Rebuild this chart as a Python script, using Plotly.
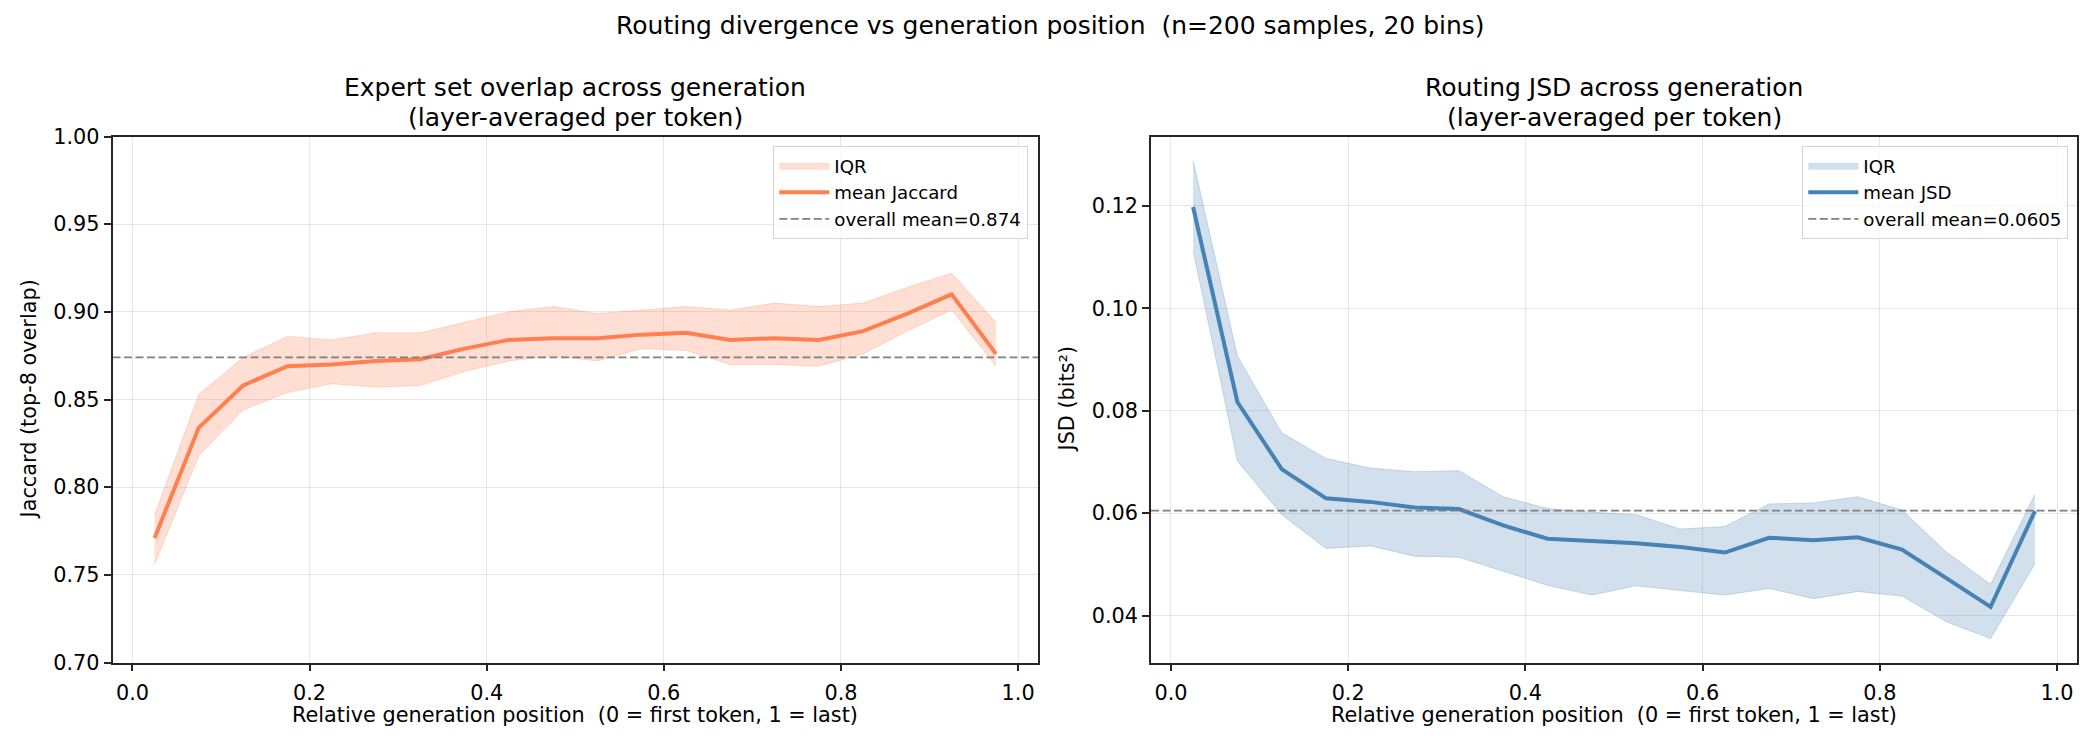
import plotly.graph_objects as go

# ---- data ----
positions = [0.025, 0.075, 0.125, 0.175, 0.225, 0.275, 0.325, 0.375, 0.425, 0.475,
             0.525, 0.575, 0.625, 0.675, 0.725, 0.775, 0.825, 0.875, 0.925, 0.975]

jac_mean = [0.771, 0.834, 0.858, 0.869, 0.870, 0.872, 0.873, 0.879, 0.884, 0.885,
            0.885, 0.887, 0.888, 0.884, 0.885, 0.884, 0.889, 0.899, 0.910, 0.876]
jac_q75 = [0.784, 0.853, 0.874, 0.886, 0.884, 0.888, 0.888, 0.894, 0.900, 0.903,
           0.899, 0.901, 0.903, 0.901, 0.905, 0.903, 0.905, 0.914, 0.922, 0.894]
jac_q25 = [0.756, 0.818, 0.844, 0.854, 0.859, 0.857, 0.858, 0.866, 0.872, 0.875,
           0.872, 0.879, 0.878, 0.870, 0.870, 0.869, 0.876, 0.889, 0.901, 0.869]
jac_overall = 0.874

jsd_mean = [0.1198, 0.0817, 0.0686, 0.0629, 0.0622, 0.0611, 0.0608, 0.0576, 0.0550, 0.0546,
            0.0541, 0.0534, 0.0523, 0.0552, 0.0547, 0.0553, 0.0529, 0.0473, 0.0417, 0.0604]
jsd_q75 = [0.1289, 0.0907, 0.0757, 0.0707, 0.0688, 0.0681, 0.0683, 0.0632, 0.0609, 0.0602,
           0.0597, 0.0569, 0.0574, 0.0618, 0.0620, 0.0632, 0.0606, 0.0524, 0.0461, 0.0637]
jsd_q25 = [0.1113, 0.0702, 0.0597, 0.0531, 0.0536, 0.0516, 0.0514, 0.0486, 0.0459, 0.0440,
           0.0458, 0.0449, 0.0440, 0.0453, 0.0433, 0.0447, 0.0438, 0.0388, 0.0355, 0.0501]
jsd_overall = 0.0605

x_ticks = [0.0, 0.2, 0.4, 0.6, 0.8, 1.0]
jac_ticks = [0.70, 0.75, 0.80, 0.85, 0.90, 0.95, 1.00]
jsd_ticks = [0.04, 0.06, 0.08, 0.10, 0.12]

main_title = "Routing divergence vs generation position  (n=200 samples, 20 bins)"
left_title = ["Expert set overlap across generation", "(layer-averaged per token)"]
right_title = ["Routing JSD across generation", "(layer-averaged per token)"]
x_label = "Relative generation position  (0 = first token, 1 = last)"
left_ylabel = "Jaccard (top-8 overlap)"
right_ylabel = "JSD (bits²)"

# ---- styles ----
FONT = "DejaVu Sans"
W, H = 2100, 750
CORAL = "#FF7F50"
CORAL_FILL = "rgba(255,127,80,0.25)"
BLUE = "#4682B4"
BLUE_FILL = "rgba(70,130,180,0.25)"
GRAY = "#808080"


def padded(vals, frac=0.05):
    lo, hi = min(vals), max(vals)
    s = hi - lo
    return [lo - frac * s, hi + frac * s]


xr = padded(positions)
jsd_range = padded(jsd_q25 + jsd_q75)

fig = go.Figure()


def add_panel(xa, ya, legend, mean, q25, q75, overall, color, fill, mean_name):
    fig.add_trace(go.Scatter(x=positions, y=q25, mode="lines",
                             line=dict(color=fill, width=1), showlegend=False,
                             xaxis=xa, yaxis=ya, hoverinfo="skip"))
    fig.add_trace(go.Scatter(x=positions, y=q75, mode="lines", fill="tonexty",
                             fillcolor=fill, line=dict(color=fill, width=1),
                             name="IQR", legend=legend, xaxis=xa, yaxis=ya))
    fig.add_trace(go.Scatter(x=positions, y=mean, mode="lines",
                             line=dict(color=color, width=4), name=mean_name,
                             legend=legend, xaxis=xa, yaxis=ya))
    fig.add_trace(go.Scatter(x=xr, y=[overall, overall], mode="lines",
                             line=dict(color=GRAY, width=1.8, dash="8px,3.5px"),
                             name=f"overall mean={overall}", legend=legend,
                             xaxis=xa, yaxis=ya))


add_panel("x", "y", "legend", jac_mean, jac_q25, jac_q75, jac_overall, CORAL, CORAL_FILL, "mean Jaccard")
add_panel("x2", "y2", "legend2", jsd_mean, jsd_q25, jsd_q75, jsd_overall, BLUE, BLUE_FILL, "mean JSD")

ydom = [1 - 662.5 / H, 1 - 136.5 / H]
left_dom = [112.5 / W, 1038 / W]
right_dom = [1151 / W, 2077 / W]

axis_common = dict(showline=True, mirror=True, linecolor="#262626", linewidth=1.7,
                   ticks="outside", ticklen=7, tickwidth=1.7, tickcolor="#262626",
                   showgrid=True, gridcolor="rgba(176,176,176,0.3)", gridwidth=1.3,
                   zeroline=False, automargin=False,
                   tickfont=dict(family=FONT, size=20.8, color="#000"))

legend_common = dict(xanchor="right", y=1 - 146 / H, yanchor="top",
                     bgcolor="rgba(255,255,255,0.8)", bordercolor="#d4d4d4", borderwidth=1.3,
                     font=dict(family=FONT, size=18.2, color="#000"), tracegroupgap=0,
                     itemwidth=50, traceorder="normal")

fig.update_layout(
    width=W, height=H,
    margin=dict(l=0, r=0, t=0, b=0, autoexpand=False),
    paper_bgcolor="white", plot_bgcolor="white",
    font=dict(family=FONT, color="#000"),
    xaxis=dict(domain=left_dom, anchor="y", range=xr, tickvals=x_ticks, tickformat=".1f",
               ticklabelstandoff=4, **axis_common),
    yaxis=dict(domain=ydom, anchor="x", range=[0.70, 1.00], tickvals=jac_ticks, tickformat=".2f", **axis_common),
    xaxis2=dict(domain=right_dom, anchor="y2", range=xr, tickvals=x_ticks, tickformat=".1f",
                ticklabelstandoff=4, **axis_common),
    yaxis2=dict(domain=ydom, anchor="x2", range=jsd_range, tickvals=jsd_ticks, tickformat=".2f", **axis_common),
    legend=dict(x=1028 / W, **legend_common),
    legend2=dict(x=2068 / W, **legend_common),
)


def ann(text, x, y, size, angle=0):
    fig.add_annotation(text=text, x=x, y=1 - y / H, xref="paper", yref="paper",
                       xanchor="center", yanchor="middle", showarrow=False, textangle=angle,
                       font=dict(family=FONT, size=size, color="#000"))


ann(main_title, 0.5, 25.5, 25)
for title, dom in [(left_title, left_dom), (right_title, right_dom)]:
    cx = (dom[0] + dom[1]) / 2
    ann(title[0], cx, 87.5, 25)
    ann(title[1], cx, 117, 25)
    ann(x_label, cx, 715, 20.8)

ymid = (1 - (662.5 + 136.5) / 2 / H)
for txt, xp in [(left_ylabel, 29), (right_ylabel, 1067)]:
    fig.add_annotation(text=txt, x=xp / W, y=ymid, xref="paper", yref="paper",
                       xanchor="center", yanchor="middle", textangle=-90, showarrow=False,
                       font=dict(family=FONT, size=20.8, color="#000"))

fig.write_html("out.html")
